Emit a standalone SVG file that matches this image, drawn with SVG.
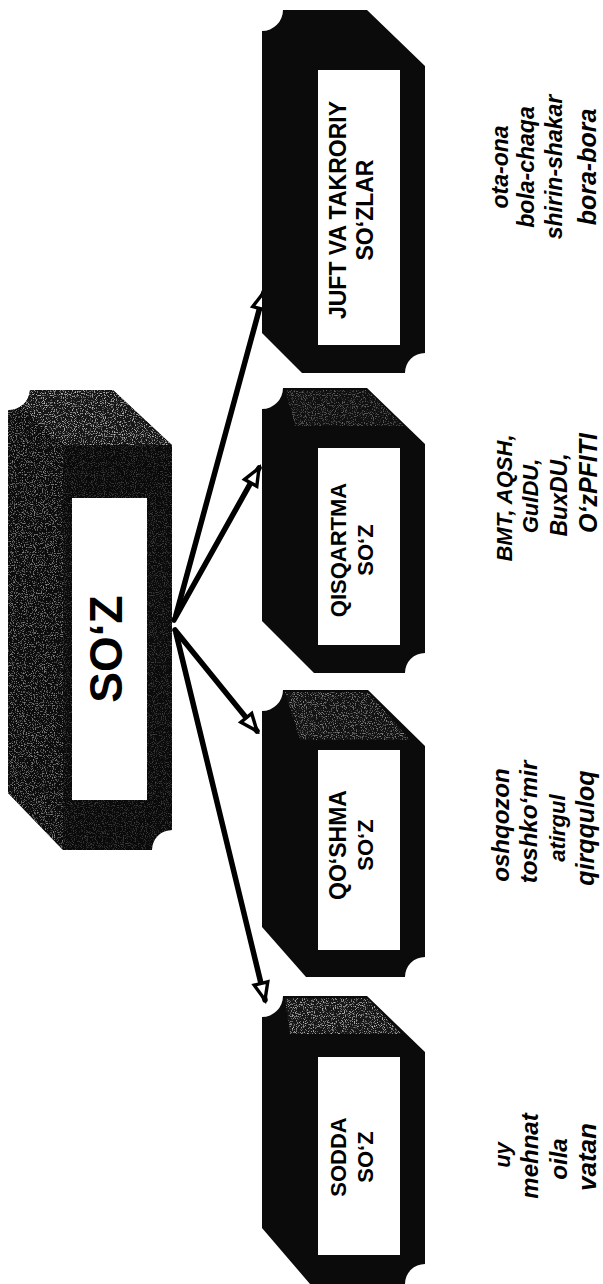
<svg xmlns="http://www.w3.org/2000/svg" width="603" height="1284" viewBox="0 0 603 1284">
<style>
.box{fill:#0b0b0b}
.face{fill:#141414}
.lbl{fill:#ffffff}
.t{font-family:"Liberation Sans",Arial,sans-serif;font-weight:bold;fill:#000;text-anchor:middle}
.ex{font-family:"Liberation Sans",Arial,sans-serif;font-weight:bold;font-style:italic;fill:#000;text-anchor:middle}
.con{stroke:#000;stroke-width:5.5;fill:none;stroke-linecap:round}
</style>
<defs>
<filter id="speck" x="0" y="0" width="100%" height="100%">
<feTurbulence type="fractalNoise" baseFrequency="0.9" numOctaves="2" seed="7" result="n"/>
<feColorMatrix in="n" type="matrix" values="0 0 0 0 0.5 0 0 0 0 0.5 0 0 0 0 0.5 0 0 0 4 -2.2" result="dots"/>
<feComposite in="dots" in2="SourceAlpha" operator="in" result="d2"/>
<feMerge><feMergeNode in="SourceGraphic"/><feMergeNode in="d2"/></feMerge>
</filter>
<marker id="arr" markerUnits="userSpaceOnUse" markerWidth="26" markerHeight="22" viewBox="-3 -11 24 22" refX="18" refY="0" orient="auto">
<path d="M1,-7 L18,0 L1,7 Z" fill="#fff" stroke="#000" stroke-width="3.4" stroke-linejoin="miter"/>
</marker>
<clipPath id="cSoz"><path d="M8,410 A21,21 0 0 0 30,390 L113,390 L172,445 L172,830 A20,20 0 0 0 152,850 L63,850 L8,793 Z"/></clipPath>
</defs>

<g id="connectors">
<path class="con" d="M176,615 L264,292" marker-end="url(#arr)"/>
<path class="con" d="M174,620 L259,468" marker-end="url(#arr)"/>
<path class="con" d="M175,630 L257,731" marker-end="url(#arr)"/>
<path class="con" d="M176,633 L265,1000" marker-end="url(#arr)"/>
</g>

<g id="soz">
<path class="box" d="M8,410 A21,21 0 0 0 30,390 L113,390 L172,445 L172,830 A20,20 0 0 0 152,850 L63,850 L8,793 Z"/>
<g clip-path="url(#cSoz)">
<polygon class="face" points="0,390 113,390 172,445 63,445" filter="url(#speck)"/>
<polygon points="0,385 63,445 63,860 0,800" fill="#0e0e0e" filter="url(#speck)" opacity="0.7"/>
<rect x="63" y="445" width="110" height="405" fill="#0b0b0b" filter="url(#speck)" opacity="0.3"/>
</g>
<rect class="lbl" x="72" y="498" width="75" height="302"/>
<text class="t" x="122" y="649" font-size="46" transform="rotate(-90 122 649)">SO‘Z</text>
</g>

<g id="juft">
<path class="box" d="M262,31 A21,21 0 0 0 283,10 L367,10 L425,66 L425,353 A20,20 0 0 0 405,373 L302,373 L262,333 Z"/>
<rect class="lbl" x="318" y="70" width="82" height="275"/>
<text class="t" font-size="23" x="346" y="210" transform="rotate(-90 346 210)">JUFT VA TAKRORIY</text>
<text class="t" font-size="23" x="373" y="210" transform="rotate(-90 373 210)">SO‘ZLAR</text>
</g>

<g id="qisqartma">
<path class="box" d="M262,409 A21,21 0 0 0 283,388 L367,388 L425,444 L425,653 A20,20 0 0 0 405,673 L314,673 L262,621 Z"/>
<polygon class="face" points="285,390 367,390 404,426 295,426" filter="url(#speck)" opacity="0.5"/>
<rect class="lbl" x="318" y="448" width="82" height="197"/>
<text class="t" font-size="22" x="346" y="550" transform="rotate(-90 346 550)">QISQARTMA</text>
<text class="t" font-size="22" x="373" y="550" transform="rotate(-90 373 550)">SO‘Z</text>
</g>

<g id="qoshma">
<path class="box" d="M262,711 A21,21 0 0 0 283,690 L368,690 L425,746 L425,957 A20,20 0 0 0 405,977 L306,977 L262,927 Z"/>
<polygon class="face" points="285,692 368,692 410,740 300,740" filter="url(#speck)" opacity="0.7"/>
<rect class="lbl" x="318" y="750" width="82" height="200"/>
<text class="t" font-size="23" x="346" y="845" transform="rotate(-90 346 845)">QO‘SHMA</text>
<text class="t" font-size="22" x="373" y="845" transform="rotate(-90 373 845)">SO‘Z</text>
</g>

<g id="sodda">
<path class="box" d="M262,1017 A21,21 0 0 0 283,996 L367,996 L425,1052 L425,1264 A20,20 0 0 0 405,1284 L310,1284 L262,1228 Z"/>
<polygon class="face" points="285,998 367,998 402,1034 290,1034" filter="url(#speck)"/>
<rect class="lbl" x="318" y="1057" width="82" height="198"/>
<text class="t" font-size="22" x="346" y="1157" transform="rotate(-90 346 1157)">SODDA</text>
<text class="t" font-size="22" x="373" y="1157" transform="rotate(-90 373 1157)">SO‘Z</text>
</g>

<g id="ex-juft">
<text class="ex" font-size="23" x="508" y="167" transform="rotate(-90 508 167)">ota-ona</text>
<text class="ex" font-size="23" x="534" y="167" transform="rotate(-90 534 167)">bola-chaqa</text>
<text class="ex" font-size="23" x="562" y="167" transform="rotate(-90 562 167)">shirin-shakar</text>
<text class="ex" font-size="25" x="596" y="167" transform="rotate(-90 596 167)">bora-bora</text>
</g>

<g id="ex-qisqartma">
<text class="ex" font-size="22" x="512" y="498" transform="rotate(-90 512 498)">BMT, AQSH,</text>
<text class="ex" font-size="22" x="538" y="496" transform="rotate(-90 538 496)">GulDU,</text>
<text class="ex" font-size="23" x="567" y="495" transform="rotate(-90 567 495)">BuxDU,</text>
<text class="ex" font-size="25" x="597" y="483" transform="rotate(-90 597 483)">O‘zPFITI</text>
</g>

<g id="ex-qoshma">
<text class="ex" font-size="24" x="509" y="825" transform="rotate(-90 509 825)">oshqozon</text>
<text class="ex" font-size="24" x="537" y="822" transform="rotate(-90 537 822)">toshko‘mir</text>
<text class="ex" font-size="22" x="565" y="828" transform="rotate(-90 565 828)">atirgul</text>
<text class="ex" font-size="25" x="594" y="828" transform="rotate(-90 594 828)">qirqquloq</text>
</g>

<g id="ex-sodda">
<text class="ex" font-size="22" x="510" y="1155" transform="rotate(-90 510 1155)">uy</text>
<text class="ex" font-size="24" x="538" y="1156" transform="rotate(-90 538 1156)">mehnat</text>
<text class="ex" font-size="24" x="567" y="1159" transform="rotate(-90 567 1159)">oila</text>
<text class="ex" font-size="26" x="596" y="1157" transform="rotate(-90 596 1157)">vatan</text>
</g>
</svg>
